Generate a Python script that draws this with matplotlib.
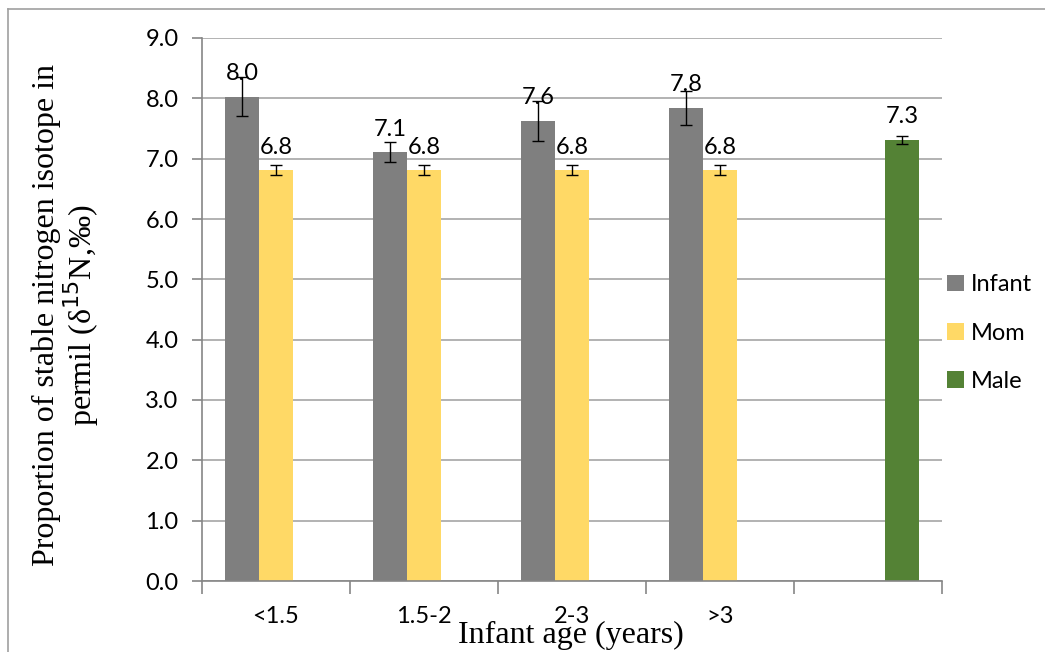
"""Bar chart: stable nitrogen isotope ratio by infant age group, with mom and male reference."""

import matplotlib

matplotlib.use("Agg")
import matplotlib.pyplot as plt
import numpy as np
from matplotlib.lines import Line2D
from matplotlib.patches import Patch

categories = ["<1.5", "1.5-2", "2-3", ">3", ""]
infant = [8.03, 7.11, 7.63, 7.84, np.nan]
infant_err = [0.32, 0.17, 0.33, 0.28, np.nan]
mom = [6.81, 6.81, 6.81, 6.81, np.nan]
mom_err = [0.08, 0.08, 0.08, 0.08, np.nan]
male = [np.nan, np.nan, np.nan, np.nan, 7.31]
male_err = [np.nan, np.nan, np.nan, np.nan, 0.07]
series_names = ["Infant", "Mom", "Male"]
y_ticks = [0, 1, 2, 3, 4, 5, 6, 7, 8, 9]

colors = ["#7f7f7f", "#ffd966", "#548235"]
sans = ["Lato", "DejaVu Sans"]
serif = ["Liberation Serif", "DejaVu Serif"]

fig = plt.figure(figsize=(10.45, 6.52), dpi=100)
ax = fig.add_axes([202 / 1045, 71 / 652, 740 / 1045, 543 / 652])

x = np.arange(len(categories))
width = 0.23
series = [(infant, infant_err), (mom, mom_err), (male, male_err)]
for i, (vals, errs) in enumerate(series):
    offs = (i - 1) * width
    vals = np.array(vals, dtype=float)
    errs = np.array(errs, dtype=float)
    ok = ~np.isnan(vals)
    ax.bar(x[ok] + offs, vals[ok], width, color=colors[i], zorder=2)
    ax.errorbar(x[ok] + offs, vals[ok], yerr=errs[ok], fmt="none",
                ecolor="black", elinewidth=1.0, capsize=4, capthick=1.0, zorder=3)
    for xi, v in zip(x[ok] + offs, vals[ok]):
        ax.annotate(f"{v:.1f}", (xi, v), xytext=(0, 9), textcoords="offset points",
                    ha="center", va="bottom", fontsize=17, family=sans)

ax.set_xlim(-0.5, len(categories) - 0.5)
ax.set_ylim(0, 9)
ax.set_yticks(y_ticks)
ax.set_yticklabels([f"{t:.1f}" for t in y_ticks], fontsize=17, family=sans)
ax.yaxis.grid(True, color="#a6a6a6", linewidth=1.2, zorder=0)
ax.set_axisbelow(True)

ax.set_xticks(np.arange(len(categories) + 1) - 0.5)
ax.set_xticklabels([])
ax.set_xticks(x, minor=True)
ax.set_xticklabels(categories, minor=True, fontsize=17, family=sans)
ax.tick_params(axis="x", which="major", length=9, color="#868686", width=1.2)
ax.tick_params(axis="x", which="minor", length=0, pad=18)
ax.tick_params(axis="y", length=7, color="#868686", width=1.2, pad=10)

for side in ["top", "right"]:
    ax.spines[side].set_visible(False)
for side in ["left", "bottom"]:
    ax.spines[side].set_color("#868686")
    ax.spines[side].set_linewidth(1.2)

fig.text(66 / 1045, 1 - 315 / 652,
         "Proportion of stable nitrogen isotope in\npermil (δ$^{15}$N,‰)",
         rotation=90, ha="center", va="center", multialignment="center",
         fontsize=23, family=serif, linespacing=1.0)
fig.text(571 / 1045, 1 - 635 / 652, "Infant age (years)", ha="center", va="center",
         fontsize=23, family=serif)

handles = [Patch(facecolor=c, edgecolor="none") for c in colors]
fig.legend(handles, series_names, loc="center left", bbox_to_anchor=(938 / 1045, 1 - 333 / 652),
           frameon=False, prop={"family": sans, "size": 17}, handlelength=0.7,
           handleheight=0.7, handletextpad=0.3, labelspacing=1.15, borderaxespad=0)

# chart border (left and top edges)
fig.add_artist(Line2D([8 / 1045, 8 / 1045], [0, 1 - 9 / 652], color="#a0a0a0", linewidth=1.2))
fig.add_artist(Line2D([8 / 1045, 1], [1 - 9 / 652, 1 - 9 / 652], color="#a0a0a0", linewidth=1.2))

fig.savefig("out.png", dpi=100)
